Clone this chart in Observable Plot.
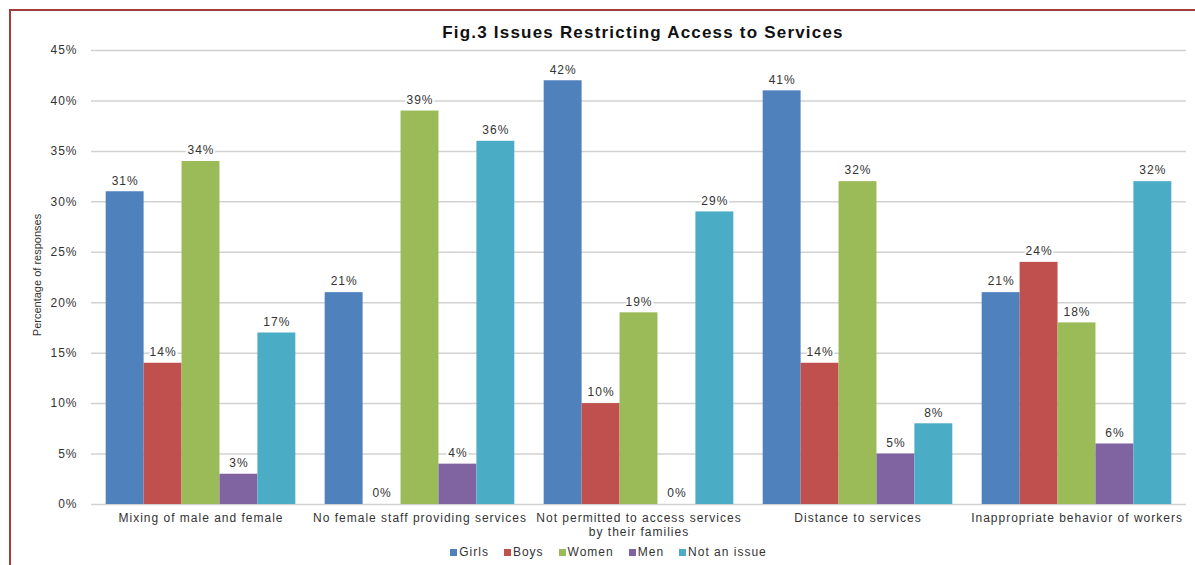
<!DOCTYPE html>
<html>
<head>
<meta charset="utf-8">
<script src="https://cdn.jsdelivr.net/npm/d3@7"></script>
<script src="https://cdn.jsdelivr.net/npm/@observablehq/plot@0.6"></script>
<style>
  html, body { margin: 0; padding: 0; background: #fff; }
  #wrap { position: relative; width: 1195px; height: 565px; overflow: hidden; font-family: "Liberation Sans", Arial, sans-serif; }
  #frame { position: absolute; left: 9px; top: 9px; width: 1200px; height: 570px; border-left: 2px solid #a33c3c; border-top: 2px solid #a33c3c; box-sizing: border-box; }
  #chart { position: absolute; left: 0; top: 0; }
  #title { position: absolute; left: 0; width: 1286px; top: 23px; text-align: center; font-weight: bold; font-size: 17px; color: #111; letter-spacing: 1.2px; }
  #ytitle { position: absolute; left: 37px; top: 275px; transform: translate(-50%, -50%) rotate(-90deg); white-space: nowrap; font-size: 11px; color: #333; }
  #legend { position: absolute; left: 0; width: 1232px; top: 545px; }
  #legend .lg-swatches { font: 12px "Liberation Sans", Arial, sans-serif; letter-spacing: 1px; color: #333; margin: 0; }
  #legend .lg-swatches-wrap { justify-content: center; min-height: 0; }
  #legend .lg-swatch { margin-right: 15px; }
  #legend .lg-swatch svg { margin-right: 2px; }
</style>
</head>
<body>
<div id="wrap">
  <div id="frame"></div>
  <div id="chart"></div>
  <div id="title">Fig.3 Issues Restricting Access to Services</div>
  <div id="ytitle">Percentage of responses</div>
  <div id="legend"></div>
</div>
<script>
const categories = [
  "Mixing of male and female",
  "No female staff providing services",
  "Not permitted to access services\nby their families",
  "Distance to services",
  "Inappropriate behavior of workers"
];
const series = ["Girls", "Boys", "Women", "Men", "Not an issue"];
const colors = ["#4f81bd", "#c0504d", "#9bbb59", "#8064a2", "#4bacc6"];
const girls    = [31, 21, 42, 41, 21];
const boys     = [14, 0, 10, 14, 24];
const women    = [34, 39, 19, 32, 18];
const men      = [3, 4, 0, 5, 6];
const notIssue = [17, 36, 29, 8, 32];
const yTicks = [0, 5, 10, 15, 20, 25, 30, 35, 40, 45];

const seriesValues = [girls, boys, women, men, notIssue];
const rows = [];
categories.forEach((c, i) => {
  series.forEach((s, j) => rows.push({category: c, series: s, value: seriesValues[j][i]}));
});

const chart = Plot.plot({
  width: 1195,
  height: 565,
  marginLeft: 90,
  marginRight: 8,
  marginTop: 50,
  marginBottom: 61,
  style: {fontFamily: "Liberation Sans, Arial, sans-serif", fontSize: "12px", color: "#333", background: "transparent", letterSpacing: "1px"},
  fx: {domain: categories, padding: 0, label: null},
  x: {domain: series, paddingInner: 0, paddingOuter: 0.387, axis: null, round: false},
  y: {domain: [0, 45], label: null},
  color: {domain: series, range: colors},
  marks: [
    Plot.ruleY(yTicks, {stroke: "#d2d2d2", strokeWidth: 1.5}),
    Plot.axisY({ticks: yTicks, tickFormat: d => d + "%", tickSize: 0, tickPadding: 14, label: null, fontSize: 12}),
    Plot.axisFx({anchor: "bottom", tickSize: 0, tickPadding: 7, lineHeight: 1.2, label: null, fontSize: 12, letterSpacing: "0.9px"}),
    Plot.barY(rows, {fx: "category", x: "series", y: "value", fill: "series", inset: 0}),
    Plot.text(rows, {fx: "category", x: "series", y: "value", text: d => d.value + "%", dy: -11, fill: "#333", stroke: "white", strokeWidth: 4, fontSize: 12})
  ]
});
document.getElementById("chart").appendChild(chart);

const legend = Plot.legend({
  color: {domain: series, range: colors},
  legend: "swatches",
  swatchSize: 7,
  className: "lg"
});
document.getElementById("legend").appendChild(legend);
</script>
</body>
</html>
